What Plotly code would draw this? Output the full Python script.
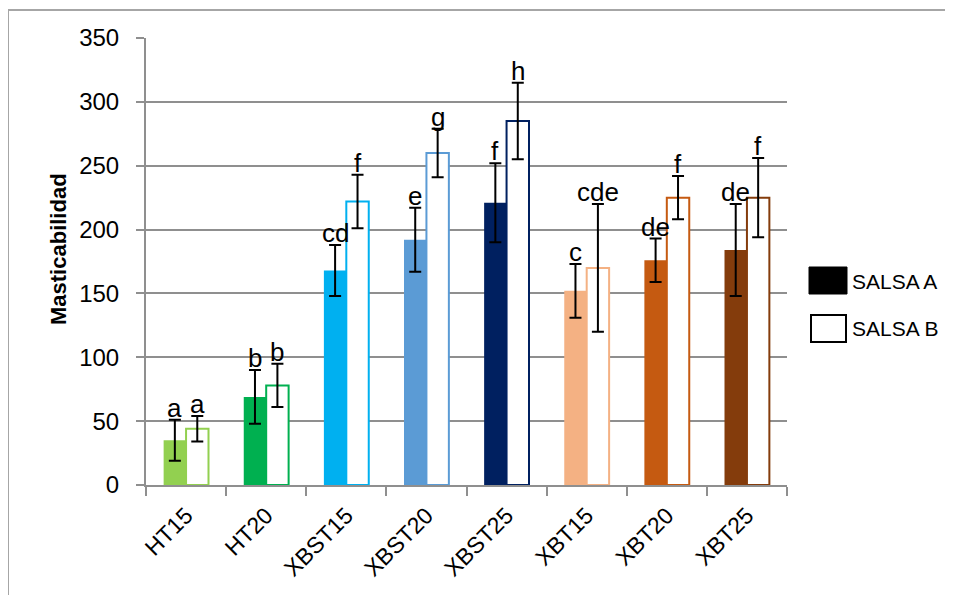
import plotly.graph_objects as go

categories = ["HT15", "HT20", "XBST15", "XBST20", "XBST25", "XBT15", "XBT20", "XBT25"]
salsa_a = [35, 69, 168, 192, 221, 152, 176, 184]
salsa_a_err = [16, 21, 20, 25, 31, 21, 17, 36]
salsa_b = [44, 78, 222, 260, 285, 170, 225, 225]
salsa_b_err = [10, 17, 21, 19, 30, 50, 17, 31]
letters_a = ["a", "b", "cd", "e", "f", "c", "de", "de"]
letters_b = ["a", "b", "f", "g", "h", "cde", "f", "f"]
colors = ["#92D050", "#00B050", "#00B0F0", "#5B9BD5", "#002060", "#F4B183", "#C55A11", "#843C0C"]
y_ticks = [0, 50, 100, 150, 200, 250, 300, 350]

FONT = "Liberation Sans, Arial, sans-serif"
GRID = "#8f8f8f"

# page has an 8px body margin; work in window pixels and shift
OFF = 8
W, H = 953 - OFF, 595 - OFF
L, R, T, B = 146 - OFF, 787 - OFF, 38 - OFF, 485 - OFF
PW, PH = R - L, B - T


def px_x(px):
    return (px - OFF - L) / PW


def px_y(py):
    return (B - (py - OFF)) / PH


fig = go.Figure()
fig.add_trace(go.Bar(
    x=categories, y=salsa_a, name="SALSA A",
    marker=dict(color=colors, line=dict(width=0)),
    error_y=dict(type="data", array=salsa_a_err, visible=True,
                 color="black", thickness=2, width=6),
))
fig.add_trace(go.Bar(
    x=categories, y=salsa_b, name="SALSA B",
    marker=dict(color="white", line=dict(color=colors, width=2)),
    error_y=dict(type="data", array=salsa_b_err, visible=True,
                 color="black", thickness=2, width=6),
))

annotations = []
half = PW / len(categories) * (1 - 0.44) / 4
for c, v, e, t in zip(categories, salsa_a, salsa_a_err, letters_a):
    annotations.append(dict(x=c, y=v + e, xref="x", yref="y", text=t, showarrow=False,
                            xshift=-half, yanchor="bottom", yshift=-5,
                            font=dict(family=FONT, size=26, color="black")))
for c, v, e, t in zip(categories, salsa_b, salsa_b_err, letters_b):
    annotations.append(dict(x=c, y=v + e, xref="x", yref="y", text=t, showarrow=False,
                            xshift=half, yanchor="bottom", yshift=-5,
                            font=dict(family=FONT, size=26, color="black")))

# y-axis title
annotations.append(dict(x=px_x(58), y=px_y(249), xref="paper", yref="paper",
                        text="<b>Masticabilidad</b>", textangle=-90, showarrow=False,
                        xanchor="center", yanchor="middle",
                        font=dict(family=FONT, size=22, color="black")))
# legend texts
annotations.append(dict(x=px_x(850), y=px_y(281), xref="paper", yref="paper",
                        text="SALSA A", showarrow=False, xanchor="left", yanchor="middle",
                        font=dict(family=FONT, size=21, color="black")))
annotations.append(dict(x=px_x(850), y=px_y(328), xref="paper", yref="paper",
                        text="SALSA B", showarrow=False, xanchor="left", yanchor="middle",
                        font=dict(family=FONT, size=21, color="black")))

shapes = [
    # legend swatches
    dict(type="rect", xref="paper", yref="paper", x0=px_x(809), x1=px_x(847),
         y0=px_y(294), y1=px_y(267), fillcolor="black", line=dict(color="black", width=1)),
    dict(type="rect", xref="paper", yref="paper", x0=px_x(811), x1=px_x(846),
         y0=px_y(342), y1=px_y(315), fillcolor="white", line=dict(color="black", width=2)),
    # outer frame (top and left)
    dict(type="line", xref="paper", yref="paper", x0=px_x(8), x1=px_x(960),
         y0=px_y(10), y1=px_y(10), line=dict(color="#a6a6a6", width=2)),
    dict(type="line", xref="paper", yref="paper", x0=px_x(8), x1=px_x(8),
         y0=px_y(10), y1=px_y(600), line=dict(color="#a6a6a6", width=2)),
]

fig.update_layout(
    width=W, height=H,
    margin=dict(l=L, r=W - R, t=T, b=H - B, autoexpand=False),
    paper_bgcolor="white", plot_bgcolor="white",
    barmode="group", bargap=0.44, bargroupgap=0,
    showlegend=False,
    font=dict(family=FONT, size=21, color="black"),
    annotations=annotations, shapes=shapes,
)
fig.update_xaxes(
    type="category", tickson="boundaries", ticks="outside", ticklen=9,
    tickcolor=GRID, tickwidth=2, showline=True, linecolor=GRID, linewidth=2,
    showgrid=False, tickangle=-45, tickfont=dict(family=FONT, size=23, color="black"),
    ticklabelstandoff=6,
)
fig.update_yaxes(
    range=[0, 350], tickvals=y_ticks, ticks="outside", ticklen=8, tickcolor=GRID,
    tickwidth=2, showline=True, linecolor=GRID, linewidth=2,
    showgrid=True, gridcolor=GRID, gridwidth=2, zeroline=False,
    tickfont=dict(family=FONT, size=24, color="black"), ticklabelstandoff=12,
)

fig.write_html("out.html")
